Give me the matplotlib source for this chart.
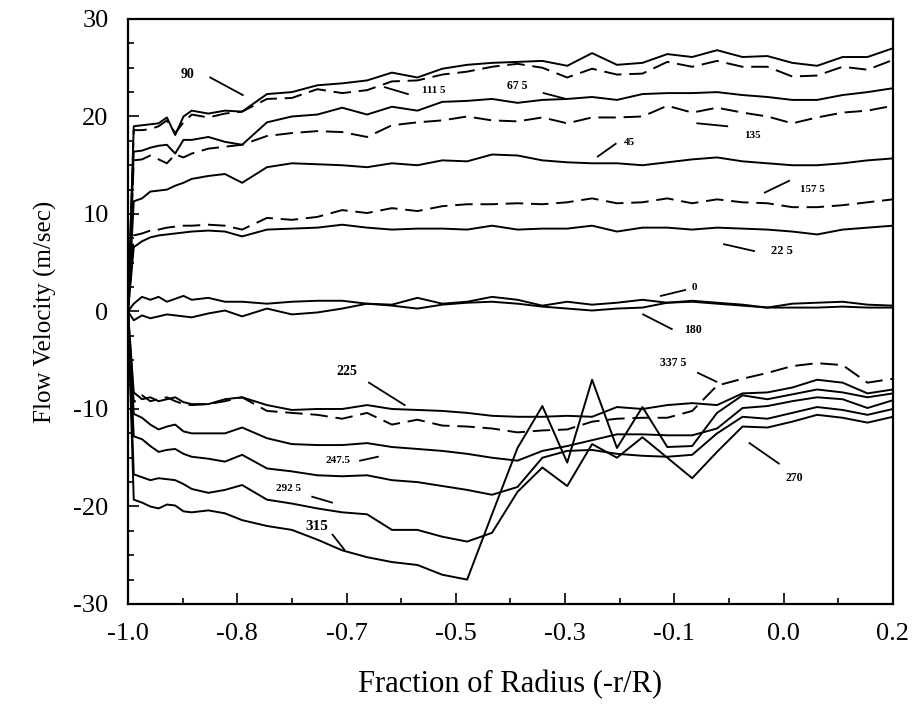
import matplotlib.pyplot as plt
from matplotlib.ticker import MultipleLocator, FixedLocator
import numpy as np

plt.rcParams['font.family'] = 'Liberation Serif'
plt.rcParams['axes.unicode_minus'] = False

# radial stations, -r/R (dense near the wall)
r = [-1.000, -0.991, -0.978, -0.965, -0.952, -0.939, -0.926, -0.913, -0.900, -0.874,
     -0.848, -0.821, -0.782, -0.743, -0.703, -0.664, -0.625, -0.586, -0.546, -0.507,
     -0.468, -0.429, -0.389, -0.350, -0.311, -0.272, -0.233, -0.193, -0.154, -0.115,
     -0.076, -0.036, 0.003, 0.042, 0.081, 0.121, 0.160, 0.200]

# flow velocity (m/sec) for each probe angle
v_90 = [0, 19.0, 19.1, 19.2, 19.3, 19.9, 18.1, 20.0, 20.6, 20.3, 20.6, 20.5, 22.3, 22.5,
        23.2, 23.4, 23.7, 24.5, 24.0, 24.9, 25.3, 25.5, 25.6, 25.7, 25.2, 26.5, 25.3, 25.5,
        26.4, 26.1, 26.8, 26.1, 26.2, 25.5, 25.2, 26.1, 26.1, 27.0]
v_112 = [0, 18.6, 18.6, 18.7, 19.0, 19.6, 18.3, 19.4, 20.2, 19.9, 20.3, 20.5, 21.8, 21.9,
         22.8, 22.4, 22.7, 23.6, 23.7, 24.3, 24.6, 25.1, 25.4, 25.0, 24.0, 24.9, 24.3, 24.4,
         25.6, 25.1, 25.7, 25.1, 25.1, 24.1, 24.2, 25.1, 24.8, 25.8]
v_67 = [0, 16.4, 16.5, 16.8, 17.0, 17.1, 16.2, 17.6, 17.6, 17.9, 17.4, 17.1, 19.4, 20.0,
        20.2, 20.9, 20.2, 21.0, 20.6, 21.5, 21.6, 21.8, 21.4, 21.7, 21.8, 22.0, 21.7, 22.3,
        22.4, 22.4, 22.5, 22.2, 22.0, 21.7, 21.7, 22.2, 22.5, 22.9]
v_135 = [0, 15.5, 15.6, 16.0, 15.6, 15.2, 16.1, 15.8, 16.2, 16.7, 16.9, 17.1, 18.0, 18.3,
         18.5, 18.4, 17.9, 19.1, 19.4, 19.6, 20.0, 19.6, 19.5, 19.9, 19.3, 19.9, 19.9, 20.0,
         21.1, 20.4, 20.9, 20.4, 20.0, 19.3, 19.9, 20.4, 20.6, 21.1]
v_45 = [0, 11.3, 11.6, 12.3, 12.4, 12.5, 12.9, 13.2, 13.6, 13.9, 14.1, 13.2, 14.8, 15.2,
        15.1, 15.0, 14.8, 15.2, 15.0, 15.5, 15.4, 16.1, 16.0, 15.5, 15.3, 15.2, 15.2, 15.0,
        15.3, 15.6, 15.8, 15.4, 15.2, 15.0, 15.0, 15.2, 15.5, 15.7]
v_157 = [0, 7.8, 8.0, 8.3, 8.4, 8.6, 8.7, 8.8, 8.8, 8.9, 8.8, 8.4, 9.6, 9.4, 9.7, 10.4,
         10.1, 10.6, 10.3, 10.8, 11.0, 11.0, 11.1, 11.0, 11.2, 11.6, 11.1, 11.2, 11.6, 11.1,
         11.5, 11.2, 11.1, 10.7, 10.7, 10.9, 11.2, 11.5]
v_22 = [0, 6.6, 7.2, 7.6, 7.8, 7.9, 8.0, 8.1, 8.2, 8.3, 8.2, 7.7, 8.4, 8.5, 8.6, 8.9, 8.6,
        8.4, 8.5, 8.5, 8.4, 8.8, 8.4, 8.5, 8.5, 8.8, 8.2, 8.6, 8.6, 8.4, 8.6, 8.5, 8.4, 8.2,
        7.9, 8.4, 8.6, 8.8]
v_0 = [0, 0.8, 1.5, 1.2, 1.5, 1.0, 1.3, 1.6, 1.2, 1.4, 1.0, 1.0, 0.8, 1.0, 1.1, 1.1, 0.8,
       0.7, 1.4, 0.8, 1.0, 1.5, 1.2, 0.6, 1.0, 0.7, 0.9, 1.2, 0.9, 1.1, 0.9, 0.7, 0.4, 0.8,
       0.9, 1.0, 0.7, 0.6]
v_180 = [0, -0.9, -0.4, -0.7, -0.5, -0.3, -0.4, -0.5, -0.6, -0.2, 0.1, -0.5, 0.3, -0.3,
         -0.1, 0.3, 0.8, 0.6, 0.3, 0.7, 0.9, 1.0, 0.8, 0.5, 0.3, 0.1, 0.3, 0.4, 0.9, 1.0,
         0.8, 0.6, 0.4, 0.4, 0.4, 0.5, 0.4, 0.4]
v_225 = [0, -8.3, -9.0, -8.8, -9.2, -9.0, -8.8, -9.3, -9.5, -9.5, -9.0, -8.8, -9.6, -10.1,
         -10.0, -10.0, -9.6, -10.0, -10.1, -10.2, -10.4, -10.7, -10.8, -10.8, -10.7, -10.8,
         -9.8, -10.0, -9.6, -9.4, -9.6, -8.4, -8.3, -7.8, -7.0, -7.3, -8.4, -8.0]
v_337 = [0, -9.3, -8.6, -9.2, -9.0, -8.8, -9.2, -9.5, -9.6, -9.5, -9.2, -8.8, -10.2, -10.4,
         -10.6, -11.0, -10.4, -11.6, -11.1, -11.7, -11.8, -12.0, -12.4, -12.2, -12.1, -11.3,
         -11.0, -10.9, -10.9, -10.2, -7.6, -6.9, -6.3, -5.6, -5.3, -5.5, -7.3, -6.9]
v_247 = [0, -10.5, -10.9, -11.6, -12.1, -11.8, -11.6, -12.3, -12.5, -12.5, -12.5, -11.9,
         -13.0, -13.6, -13.7, -13.7, -13.5, -13.9, -14.1, -14.3, -14.6, -15.0, -15.3, -14.3,
         -13.8, -13.2, -12.6, -12.6, -12.7, -12.7, -12.0, -9.9, -9.7, -9.2, -8.8, -9.0, -9.9,
         -9.1]
v_270 = [0, -12.8, -13.1, -13.8, -14.4, -14.2, -14.1, -14.6, -14.9, -15.1, -15.4, -14.7,
         -16.1, -16.4, -16.8, -16.9, -16.8, -17.3, -17.5, -17.9, -18.3, -18.8, -18.0, -15.0,
         -14.3, -14.2, -14.6, -14.8, -14.9, -14.7, -12.5, -10.8, -11.0, -10.4, -9.8, -10.1,
         -10.6, -10.0]
v_292 = [0, -16.7, -17.0, -17.3, -17.1, -17.2, -17.3, -17.7, -18.2, -18.6, -18.3, -17.8,
         -19.3, -19.7, -20.2, -20.6, -20.8, -22.4, -22.4, -23.1, -23.6, -22.7, -18.5, -16.0,
         -17.9, -13.6, -15.0, -12.9, -15.0, -17.1, -14.4, -11.8, -11.9, -11.3, -10.6, -10.9,
         -11.4, -10.8]
v_315 = [0, -19.3, -19.6, -20.0, -20.2, -19.8, -19.9, -20.5, -20.6, -20.4, -20.7, -21.4,
         -22.0, -22.4, -23.4, -24.5, -25.2, -25.7, -26.0, -27.0, -27.5, -20.8, -14.0, -9.7,
         -15.5, -7.0, -14.0, -9.8, -13.9, -13.8, -10.4, -8.6, -9.0, -8.5, -8.0, -8.3, -8.8,
         -8.4]

series = [v_90, v_112, v_67, v_135, v_45, v_157, v_22, v_0, v_180,
          v_225, v_337, v_247, v_270, v_292, v_315]
dashed = [False, True, False, True, False, True, False, False, False,
          False, True, False, False, False, False]

xtick_labels = ['-1.0', '-0.8', '-0.7', '-0.5', '-0.3', '-0.1', '0.0', '0.2']

# angle labels: text, text pos, leader start, leader end, size
notes = [
    ('90', (-0.907, 24.3), (-0.871, 24.0), (-0.820, 22.2), 10),
    ('111 5', (-0.521, 22.7), (-0.597, 23.0), (-0.561, 22.3), 8),
    ('67 5', (-0.390, 23.1), (-0.348, 22.4), (-0.313, 21.8), 8.5),
    ('135', (-0.021, 18.1), (-0.107, 19.3), (-0.060, 19.0), 8),
    ('45', (-0.213, 17.3), (-0.263, 15.9), (-0.235, 17.2), 8),
    ('157 5', (0.073, 12.5), (-0.001, 12.2), (0.037, 13.4), 8),
    ('22 5', (0.026, 6.2), (-0.065, 6.9), (-0.018, 6.2), 9),
    ('0', (-0.112, 2.5), (-0.164, 1.6), (-0.126, 2.2), 8),
    ('180', (-0.114, -1.9), (-0.192, -0.3), (-0.147, -1.8), 8.5),
    ('337 5', (-0.144, -5.3), (-0.106, -6.3), (-0.077, -7.2), 8.5),
    ('225', (-0.657, -6.2), (-0.622, -7.3), (-0.566, -9.6), 10),
    ('247.5', (-0.671, -15.3), (-0.636, -15.3), (-0.608, -14.9), 8),
    ('292 5', (-0.749, -18.2), (-0.711, -19.0), (-0.680, -19.6), 8),
    ('315', (-0.704, -22.1), (-0.679, -22.9), (-0.661, -24.4), 11),
    ('270', (0.046, -17.1), (-0.025, -13.5), (0.021, -15.6), 8.5),
]

fig = plt.figure(figsize=(9.17, 7.06), dpi=100)
ax = fig.add_axes([0.1396, 0.1445, 0.8342, 0.8286])

for v, d in zip(series, dashed):
    ls = (0, (9, 4)) if d else '-'
    ax.plot(r, v, color='black', lw=1.4, linestyle=ls)

for txt, (tx, ty), (x0, y0), (x1, y1), fs in notes:
    ax.plot([x0, x1], [y0, y1], color='black', lw=1.3)
    ax.text(tx, ty, txt, fontsize=fs, fontweight='bold', ha='center', va='center')

ax.set_xlim(-1.0, 0.2)
ax.set_ylim(-30, 30)
xt = np.linspace(-1.0, 0.2, 8)
ax.set_xticks(xt)
ax.set_xticklabels(xtick_labels)
ax.xaxis.set_minor_locator(FixedLocator((xt[:-1] + xt[1:]) / 2))
ax.yaxis.set_major_locator(MultipleLocator(10))
ax.yaxis.set_minor_locator(MultipleLocator(2.5))
ax.tick_params(which='both', direction='in', top=False, right=False, width=1.2)
ax.tick_params(which='major', length=8, labelsize=19, pad=14)
ax.tick_params(which='minor', length=4.5)
for s in ax.spines.values():
    s.set_linewidth(1.6)

ax.set_xlabel('Fraction of Radius (-r/R)', fontsize=22, labelpad=18)
ax.set_ylabel('Flow Velocity (m/sec)', fontsize=18, labelpad=12)

fig.savefig('out.png', dpi=100)
